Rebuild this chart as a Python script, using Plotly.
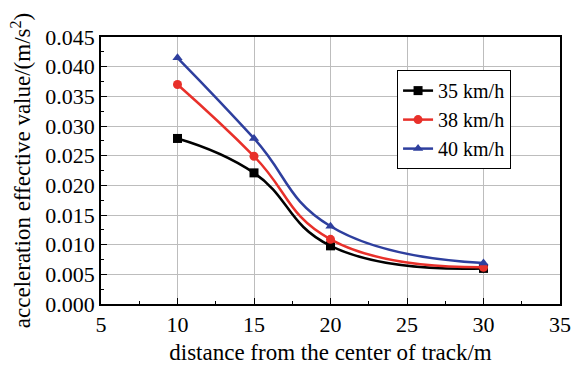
import plotly.graph_objects as go

distance = [10, 15, 20, 30]
v35 = [0.0279, 0.0221, 0.0098, 0.0060]
v38 = [0.0370, 0.0249, 0.0109, 0.0062]
v40 = [0.0415, 0.0279, 0.0131, 0.0069]
series_names = ["35 km/h", "38 km/h", "40 km/h"]

font_family = "Liberation Serif"

fig = go.Figure()
styles = [
    ("#000000", "square"),
    ("#e8302a", "circle"),
    ("#2e3f9e", "triangle-up"),
]
for name, vals, (col, sym) in zip(series_names, [v35, v38, v40], styles):
    fig.add_trace(go.Scatter(
        x=distance, y=vals, name=name, mode="lines+markers",
        line=dict(color=col, width=2.5, shape="spline", smoothing=1.3),
        marker=dict(color=col, symbol=sym, size=9),
    ))

axis_common = dict(
    showline=True, linecolor="black", linewidth=1.5, mirror=True,
    ticks="inside", ticklen=6, tickcolor="black",
    showgrid=True, gridcolor="#bdbdbd", gridwidth=1.2,
    zeroline=False, automargin=False,
    tickfont=dict(family=font_family, size=22, color="black"),
    title_font=dict(family=font_family, size=23, color="black"),
)

fig.update_xaxes(
    range=[5, 35], tick0=5, dtick=5,
    minor=dict(ticks="inside", ticklen=3, dtick=2.5, tick0=5, tickcolor="black", showgrid=False),
    title_text="distance from the center of track/m", title_standoff=8,
    **axis_common,
)
fig.update_yaxes(
    range=[0, 0.045], tick0=0, dtick=0.005, tickformat=".3f",
    minor=dict(ticks="inside", ticklen=3, dtick=0.0025, tick0=0, tickcolor="black", showgrid=False),
    title_text="acceleration effective value/(m/s<sup>2</sup>)", title_standoff=8,
    **axis_common,
)

fig.update_layout(
    width=574, height=365,
    margin=dict(l=101, r=14, t=37, b=61),
    paper_bgcolor="white", plot_bgcolor="white",
    font=dict(family=font_family, size=21, color="black"),
    legend=dict(
        x=0.645, y=0.876, xanchor="left", yanchor="top",
        bgcolor="white", bordercolor="black", borderwidth=1,
        font=dict(family=font_family, size=20, color="black"),
        itemwidth=30, tracegroupgap=0,
    ),
)

fig.write_html("out.html", config={"displayModeBar": False},
               post_script="document.body.style.margin='0';")
